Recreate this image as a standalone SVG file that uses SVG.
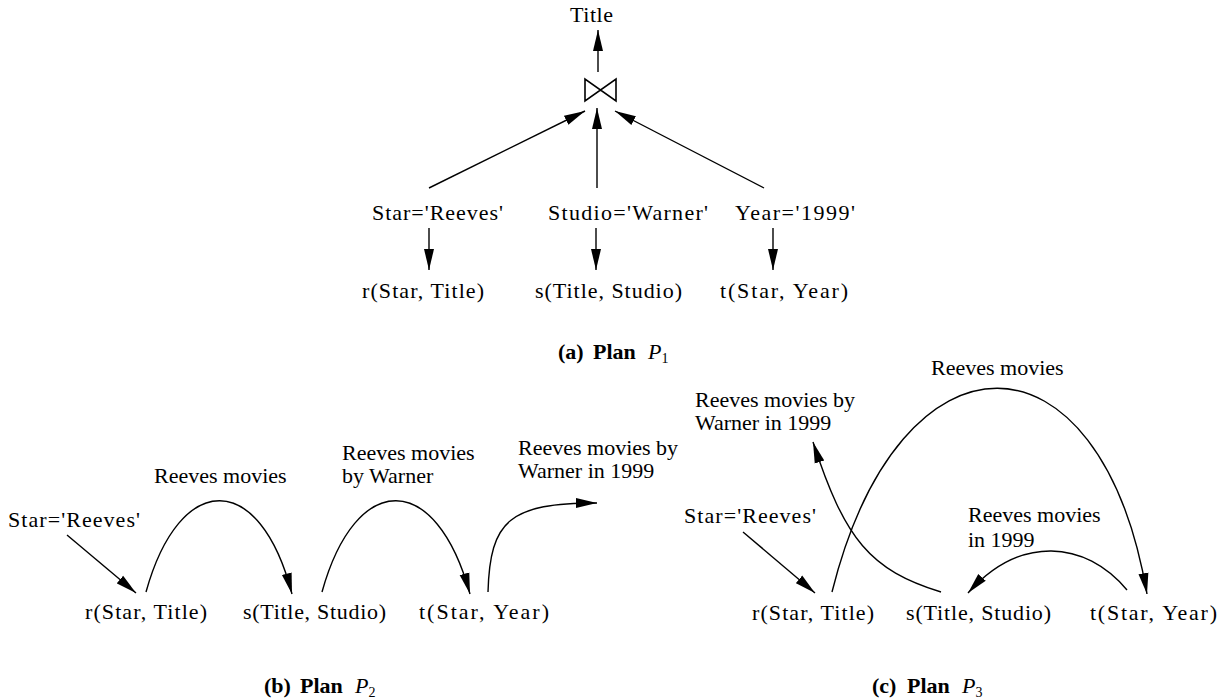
<svg xmlns="http://www.w3.org/2000/svg" width="1232" height="700" viewBox="0 0 1232 700" font-family="'Liberation Serif', 'DejaVu Serif', 'Times New Roman', serif">
<style>
text{font-family:'Liberation Serif','DejaVu Serif','Times New Roman',serif;font-size:22px;fill:#000}
.b{font-weight:bold}
.i{font-style:italic}
.sub{font-size:14px}
.e{stroke:#000;stroke-width:1.4;fill:none;marker-end:url(#ah)}
.sym{stroke:#000;stroke-width:1.6;fill:none;stroke-linejoin:miter}
</style>
<defs>
<marker id="ah" markerWidth="22" markerHeight="12" refX="21" refY="6" orient="auto" markerUnits="userSpaceOnUse">
<path d="M0,1 L21,6 L0,11 z" fill="#000"/>
</marker>
</defs>
<rect width="1232" height="700" fill="#fff"/>

<!-- Plan P1 -->
<g id="a-title"><text x="570" y="22" textLength="43" lengthAdjust="spacing">Title</text></g>
<g id="a-join"><path class="sym" d="M585,79 L585,101 L616,79 L616,101 Z"/></g>
<g id="a-sel-star"><text x="372" y="220" textLength="131" lengthAdjust="spacing">Star='Reeves'</text></g>
<g id="a-sel-studio"><text x="548" y="220" textLength="160" lengthAdjust="spacing">Studio='Warner'</text></g>
<g id="a-sel-year"><text x="735" y="220" textLength="120" lengthAdjust="spacing">Year='1999'</text></g>
<g id="a-r"><text x="362" y="298" textLength="122" lengthAdjust="spacing">r(Star, Title)</text></g>
<g id="a-s"><text x="535" y="298" textLength="147" lengthAdjust="spacing">s(Title, Studio)</text></g>
<g id="a-t"><text x="720" y="298" textLength="128" lengthAdjust="spacing">t(Star, Year)</text></g>
<g id="a-caption"><text y="359"><tspan class="b" x="558">(a)</tspan><tspan class="b" x="593">Plan</tspan><tspan class="i" x="648">P</tspan><tspan class="sub" dy="4">1</tspan></text></g>

<!-- Plan P2 -->
<g id="b-sel-star"><text x="8" y="527" textLength="132" lengthAdjust="spacing">Star='Reeves'</text></g>
<g id="b-r"><text x="85" y="619" textLength="122" lengthAdjust="spacing">r(Star, Title)</text></g>
<g id="b-s"><text x="243" y="619" textLength="143" lengthAdjust="spacing">s(Title, Studio)</text></g>
<g id="b-t"><text x="419" y="619" textLength="130" lengthAdjust="spacing">t(Star, Year)</text></g>
<g id="b-l1"><text x="154" y="483">Reeves movies</text></g>
<g id="b-l2"><text x="342" y="460">Reeves movies</text><text x="342" y="483">by Warner</text></g>
<g id="b-l3"><text x="518" y="455">Reeves movies by</text><text x="518" y="478">Warner in 1999</text></g>
<g id="b-caption"><text y="693"><tspan class="b" x="264">(b)</tspan><tspan class="b" x="300">Plan</tspan><tspan class="i" x="355">P</tspan><tspan class="sub" dy="4">2</tspan></text></g>

<!-- Plan P3 -->
<g id="c-sel-star"><text x="684" y="523" textLength="132" lengthAdjust="spacing">Star='Reeves'</text></g>
<g id="c-r"><text x="752" y="620" textLength="122" lengthAdjust="spacing">r(Star, Title)</text></g>
<g id="c-s"><text x="906" y="620" textLength="145" lengthAdjust="spacing">s(Title, Studio)</text></g>
<g id="c-t"><text x="1090" y="620" textLength="127" lengthAdjust="spacing">t(Star, Year)</text></g>
<g id="c-l1"><text x="931" y="375">Reeves movies</text></g>
<g id="c-l2"><text x="695" y="407">Reeves movies by</text><text x="695" y="430">Warner in 1999</text></g>
<g id="c-l3"><text x="968" y="522">Reeves movies</text><text x="968" y="547">in 1999</text></g>
<g id="c-caption"><text y="693"><tspan class="b" x="872">(c)</tspan><tspan class="b" x="907">Plan</tspan><tspan class="i" x="962">P</tspan><tspan class="sub" dy="4">3</tspan></text></g>

<g id="connectors">
<!-- P1 -->
<line class="e" x1="598" y1="72" x2="598" y2="30"/>
<line class="e" x1="429" y1="188" x2="585" y2="111"/>
<line class="e" x1="597" y1="188" x2="597" y2="108"/>
<line class="e" x1="764" y1="188" x2="615" y2="111"/>
<line class="e" x1="429" y1="228" x2="429" y2="270"/>
<line class="e" x1="596" y1="228" x2="596" y2="270"/>
<line class="e" x1="773" y1="228" x2="773" y2="270"/>
<!-- P2 -->
<line class="e" x1="67" y1="535" x2="136" y2="593"/>
<path class="e" d="M146,592 C180,470 260,470 292,594"/>
<path class="e" d="M322,592 C356,470 436,470 470,594"/>
<path class="e" d="M488,592 C490,520 510,503 597,503"/>
<!-- P3 -->
<line class="e" x1="743" y1="532" x2="815" y2="593"/>
<path class="e" d="M832,592 C900,320 1100,320 1147,594"/>
<path class="e" d="M1127,590 C1085,540 1020,535 968,593"/>
<path class="e" d="M941,592 C870,570 845,540 813,442"/>
</g>
</svg>
